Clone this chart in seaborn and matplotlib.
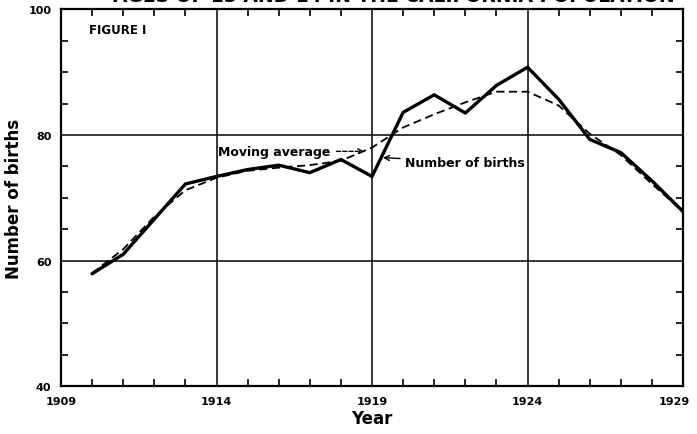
import pandas as pd
import matplotlib.pyplot as plt
import matplotlib.transforms as mtransforms
import seaborn as sns
from matplotlib.ticker import MultipleLocator

years = list(range(1910, 1930))
births = [57.9, 61.0, 66.6, 72.2, 73.4, 74.5, 75.2, 74.0, 76.1, 73.4,
          83.6, 86.4, 83.5, 87.9, 90.8, 85.7, 79.3, 77.2, 72.7, 67.8]
moving_avg = [58.0, 61.8, 67.0, 71.2, 73.2, 74.3, 74.8, 75.2, 75.9, 78.0,
              81.2, 83.3, 85.2, 86.9, 86.9, 84.7, 80.2, 76.8, 72.2, 67.8]
x_ticks = [1909, 1914, 1919, 1924, 1929]
y_ticks = [40, 60, 80, 100]

df = pd.DataFrame({'year': years, 'births': births, 'moving_avg': moving_avg})

sns.set_style('white')
plt.rcParams['font.family'] = ['DejaVu Sans']
plt.rcParams['font.weight'] = 'bold'
plt.rcParams['text.color'] = 'black'
plt.rcParams['axes.labelcolor'] = 'black'
plt.rcParams['xtick.color'] = 'black'
plt.rcParams['ytick.color'] = 'black'

fig = plt.figure(figsize=(6.97, 4.35), dpi=100)
ax = fig.add_axes([0.0875, 0.110, 0.8925, 0.866])

sns.lineplot(data=df, x='year', y='moving_avg', ax=ax, color='black',
             linestyle=(0, (4.5, 2.5)), linewidth=1.3)
sns.lineplot(data=df, x='year', y='births', ax=ax, color='black', linewidth=2.4)

ax.set_xlim(1909, 1929)
ax.set_ylim(40, 100)
ax.set_xticks(x_ticks)
ax.set_yticks(y_ticks)
ax.xaxis.set_minor_locator(MultipleLocator(1))
ax.yaxis.set_minor_locator(MultipleLocator(5))
ax.tick_params(which='major', direction='in', length=0, labelsize=8, pad=7,
               labelcolor='black')
ax.tick_params(which='minor', direction='in', length=5, width=1.2,
               top=True, right=True, bottom=True, left=True, color='black')
for lab in ax.get_xticklabels() + ax.get_yticklabels():
    lab.set_fontweight('bold')

# nudge the last year label so it stays inside the picture
last = ax.get_xticklabels()[-1]
last.set_transform(last.get_transform() +
                   mtransforms.ScaledTranslation(-6 / 72, 0, fig.dpi_scale_trans))

for v in [60, 80]:
    ax.axhline(v, color='black', linewidth=1.1, zorder=0)
for v in [1914, 1919, 1924]:
    ax.axvline(v, color='black', linewidth=1.1, zorder=0)

for s in ax.spines.values():
    s.set_visible(True)
    s.set_color('black')
    s.set_linewidth(1.6)

ax.set_xlabel('Year', fontsize=12, fontweight='bold', labelpad=2)
ax.set_ylabel('Number of births', fontsize=12, fontweight='bold', labelpad=4)

ax.text(1909.9, 96.2, 'FIGURE I', fontsize=8.5, fontweight='bold')

ax.annotate('Moving average', xy=(1918.75, 77.4), xytext=(1914.05, 77.4),
            fontsize=9, fontweight='bold', va='center',
            arrowprops=dict(arrowstyle='->', color='black', lw=1.0,
                            linestyle=(0, (3, 1.5)), shrinkA=2, shrinkB=0))
ax.annotate('Number of births', xy=(1919.35, 76.4), xytext=(1920.05, 75.7),
            fontsize=9, fontweight='bold', va='center',
            arrowprops=dict(arrowstyle='->', color='black', lw=1.0,
                            shrinkA=1, shrinkB=0))

fig.text(0.565, 1.007, 'AGES OF 13 AND 14 IN THE CALIFORNIA POPULATION',
         ha='center', va='center', fontsize=13.5, fontweight='bold')

fig.savefig('out.png', dpi=100)
